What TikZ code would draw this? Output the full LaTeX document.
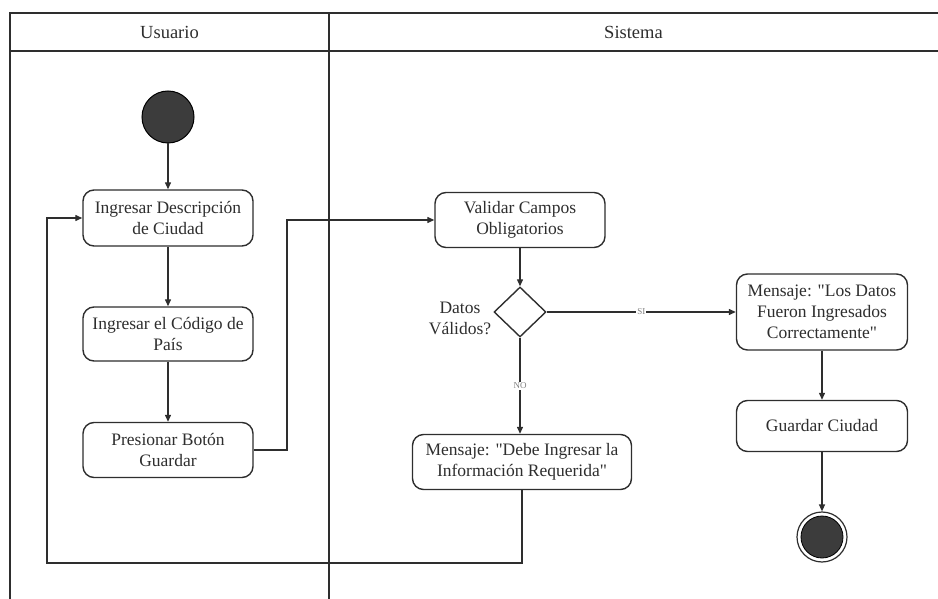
\documentclass[tikz,border=0pt]{standalone}
\usepackage{fontspec}
\setmainfont{Liberation Serif}
\usetikzlibrary{arrows.meta,shapes.geometric}
\definecolor{ink}{HTML}{2E2E2E}
\definecolor{dot}{HTML}{3C3C3C}
\newcommand{\dq}{\textquotedbl}
\begin{document}
\begin{tikzpicture}[x=1pt,y=-1pt,
  every node/.style={text=ink},
  act/.style={draw=ink, line width=1.4pt, rounded corners=11pt, fill=white,
    align=center, inner sep=2pt, minimum width=170pt,
    font=\fontsize{17.5}{21}\selectfont},
  arr/.style={draw=ink, line width=1.3pt, -{Triangle[length=7pt,width=6pt]}},
  lane/.style={draw=ink, line width=1.8pt},
  lanetitle/.style={font=\fontsize{18.5}{22}\selectfont},
  lbl/.style={fill=white, inner sep=1pt, text=gray, font=\fontsize{9}{10}\selectfont},
  note/.style={align=center, font=\fontsize{17.5}{21}\selectfont}]
\useasboundingbox (0,0) rectangle (938,599);

% swimlane frame
\draw[lane] (938,13) -- (10,13) -- (10,599);
\draw[lane] (10,51) -- (938,51);
\draw[lane] (329,13) -- (329,599);
\node[lanetitle] (lu) at (169.5,32) {Usuario};
\node[lanetitle] (ls) at (633.5,32) {Sistema};

% user lane
\node[circle, draw=black, line width=1pt, fill=dot, minimum size=52pt, inner sep=0pt] (start) at (168,117) {};
\node[act, minimum height=56pt] (b1) at (168,218) {Ingresar Descripción\\de Ciudad};
\node[act, minimum height=54pt] (b2) at (168,334) {Ingresar el Código de\\País};
\node[act, minimum height=55pt] (b3) at (168,450) {Presionar Botón\\Guardar};

% system lane
\node[act, minimum height=55pt] (val) at (520,220) {Validar Campos\\Obligatorios};
\node[diamond, draw=ink, line width=1.4pt, fill=white, minimum width=52pt, minimum height=50pt, inner sep=0pt] (dia) at (520,312) {};
\node[note] (q) at (460,318) {Datos\\Válidos?};
\node[act, minimum width=171pt, minimum height=76pt] (ok) at (822,312) {Mensaje: \dq Los Datos\\Fueron Ingresados\\Correctamente\dq};
\node[act, minimum width=171pt, minimum height=51pt] (guard) at (822,426) {Guardar Ciudad};
\node[circle, draw=ink, line width=1.2pt, fill=white, minimum size=50pt, inner sep=0pt] (end) at (822,537) {};
\node[circle, draw=black, line width=0.8pt, fill=dot, minimum size=42pt, inner sep=0pt] (endin) at (end) {};
\node[act, minimum width=219pt, minimum height=55pt] (err) at (522,462) {Mensaje: \dq Debe Ingresar la\\Información Requerida\dq};

% routing points
\coordinate (jog) at (287,335);
\coordinate (loop) at (47,563);

% flow
\draw[arr] (start) -- (b1);
\draw[arr] (b1) -- (b2);
\draw[arr] (b2) -- (b3);
\draw[arr] (b3.east) -| (jog) |- (val.west);
\draw[arr] (val) -- (dia);
\draw[arr] (dia.east) -- node[lbl] {SI} (ok.west);
\draw[arr] (dia.south) -- node[lbl] {NO} (dia.south |- err.north);
\draw[arr] (ok) -- (guard);
\draw[arr] (guard) -- (end);
\draw[arr] (err.south) |- (loop) |- (b1.west);
\end{tikzpicture}
\end{document}
